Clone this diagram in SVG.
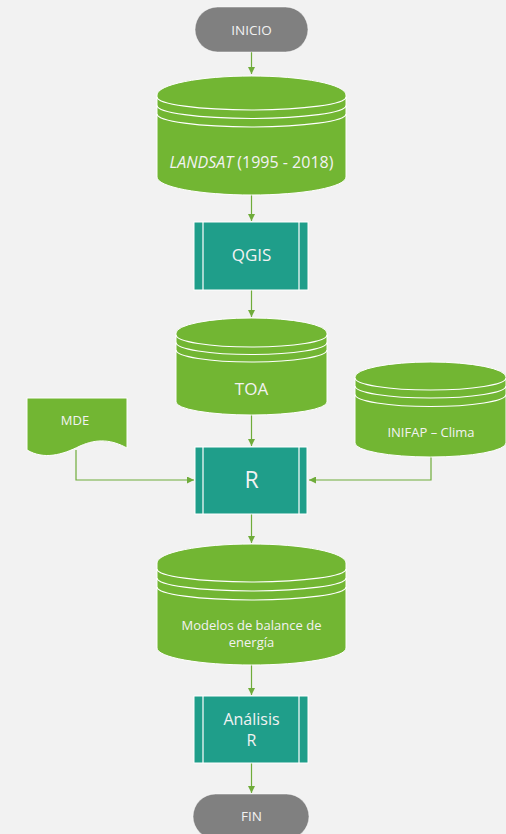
<svg xmlns="http://www.w3.org/2000/svg" width="506" height="834" viewBox="0 0 506 834">
<defs>
<style>
.cyl{fill:#72b633;stroke:#ffffff;stroke-width:1}
.ln{fill:none;stroke:#ffffff;stroke-width:1.2}
.proc{fill:#1f9e8a;stroke:#ffffff;stroke-width:1}
.term{fill:#808080;stroke:#ffffff;stroke-width:0.5}
.doc{fill:#72b633;stroke:#ffffff;stroke-width:1}
.t{font-family:"Open Sans","Noto Sans",sans-serif;fill:#f2f2f2;text-anchor:middle}
.c{fill:none;stroke:#6fac3a;stroke-width:1.2}
</style>
<marker id="ah" viewBox="0 0 10 10" refX="10" refY="5" markerWidth="7" markerHeight="7" markerUnits="userSpaceOnUse" orient="auto">
<path d="M0,0 L10,5 L0,10 Z" fill="#6fac3a"/>
</marker>
</defs>
<rect x="0" y="0" width="506" height="834" fill="#f2f2f2"/>

<g id="connectors">
<path class="c" d="M251.5,52 V74" marker-end="url(#ah)"/>
<path class="c" d="M251.5,195 V221" marker-end="url(#ah)"/>
<path class="c" d="M251.5,290 V317" marker-end="url(#ah)"/>
<path class="c" d="M251.5,415 V446" marker-end="url(#ah)"/>
<path class="c" d="M76,450 V480 H194" marker-end="url(#ah)"/>
<path class="c" d="M431,457 V480 H309" marker-end="url(#ah)"/>
<path class="c" d="M251.5,514 V543" marker-end="url(#ah)"/>
<path class="c" d="M251.5,665 V695" marker-end="url(#ah)"/>
<path class="c" d="M251.5,763 V793" marker-end="url(#ah)"/>
</g>

<g id="inicio">
<rect class="term" x="195" y="7" width="113" height="45" rx="22.5"/>
<text class="t" x="251.5" y="35" font-size="13.5">INICIO</text>
</g>

<g id="landsat">
<path class="cyl" d="M157,95 A94.5,19 0 0 1 346,95 V177 A94.5,18 0 0 1 157,177 Z"/>
<path class="ln" d="M157,97 A94.5,13 0 0 0 346,97"/>
<path class="ln" d="M157,105.5 A94.5,13 0 0 0 346,105.5"/>
<path class="ln" d="M157,114 A94.5,13 0 0 0 346,114"/>
<text class="t" x="251.5" y="168" font-size="16"><tspan font-style="italic">LANDSAT</tspan> (1995 - 2018)</text>
</g>

<g id="qgis">
<rect class="proc" x="194" y="222" width="114" height="68"/>
<path class="ln" d="M203,222 V290 M299,222 V290"/>
<text class="t" x="251.5" y="261" font-size="17">QGIS</text>
</g>

<g id="toa">
<path class="cyl" d="M176,333 A75.5,15 0 0 1 327,333 V402 A75.5,13 0 0 1 176,402 Z"/>
<path class="ln" d="M176,335 A75.5,12 0 0 0 327,335"/>
<path class="ln" d="M176,342.5 A75.5,12 0 0 0 327,342.5"/>
<path class="ln" d="M176,350 A75.5,12 0 0 0 327,350"/>
<text class="t" x="251.5" y="395" font-size="17">TOA</text>
</g>

<g id="mde">
<path class="doc" d="M27,398 H127 V448 C112,440 98,438 80,446 C62,455 44,460 27,450 Z"/>
<text class="t" x="75" y="425" font-size="13">MDE</text>
</g>

<g id="inifap">
<path class="cyl" d="M355,377 A75.5,15 0 0 1 506,377 V443 A75.5,14 0 0 1 355,443 Z"/>
<path class="ln" d="M355,378 A75.5,12 0 0 0 506,378"/>
<path class="ln" d="M355,386 A75.5,12 0 0 0 506,386"/>
<path class="ln" d="M355,394.5 A75.5,12 0 0 0 506,394.5"/>
<text class="t" x="431" y="437" font-size="13">INIFAP – Clima</text>
</g>

<g id="r">
<rect class="proc" x="195" y="447" width="112" height="67"/>
<path class="ln" d="M203,447 V514 M299,447 V514"/>
<text class="t" x="251.5" y="488" font-size="23">R</text>
</g>

<g id="modelos">
<path class="cyl" d="M157,563 A94.5,19 0 0 1 346,563 V648 A94.5,17 0 0 1 157,648 Z"/>
<path class="ln" d="M157,569 A94.5,13 0 0 0 346,569"/>
<path class="ln" d="M157,578 A94.5,13 0 0 0 346,578"/>
<path class="ln" d="M157,587 A94.5,13 0 0 0 346,587"/>
<text class="t" x="251.5" y="630" font-size="13">Modelos de balance de</text>
<text class="t" x="251.5" y="647" font-size="13">energía</text>
</g>

<g id="analisis">
<rect class="proc" x="194" y="696" width="114" height="67"/>
<path class="ln" d="M203,696 V763 M299,696 V763"/>
<text class="t" x="251.5" y="725" font-size="16">Análisis</text>
<text class="t" x="251.5" y="746" font-size="16">R</text>
</g>

<g id="fin">
<rect class="term" x="193" y="794" width="116" height="45" rx="22.5"/>
<text class="t" x="251.5" y="821" font-size="13.5">FIN</text>
</g>
</svg>
